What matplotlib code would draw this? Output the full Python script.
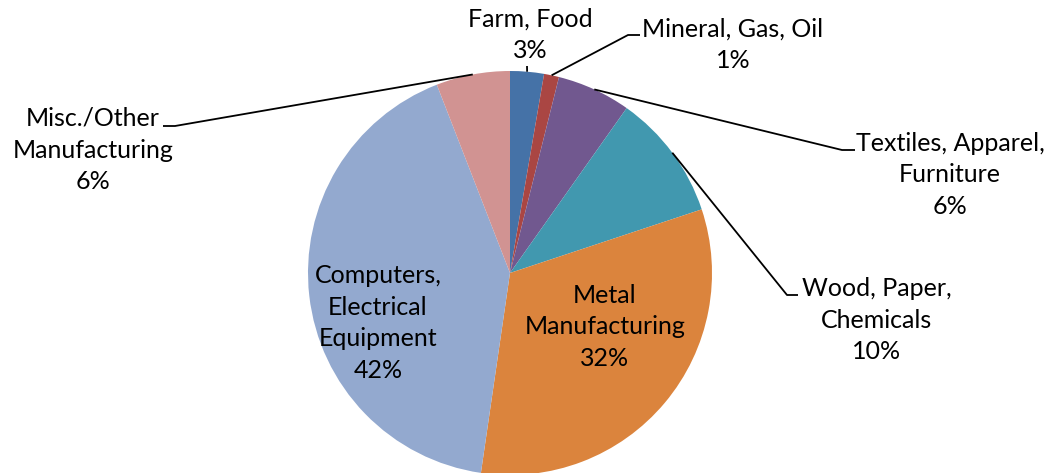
import numpy as np
import matplotlib
matplotlib.use("Agg")
import matplotlib.pyplot as plt

plt.rcParams['font.family'] = ['Lato', 'DejaVu Sans']

categories = ["Farm, Food", "Mineral, Gas, Oil", "Textiles, Apparel,\nFurniture",
              "Wood, Paper,\nChemicals", "Metal\nManufacturing",
              "Computers,\nElectrical\nEquipment", "Misc./Other\nManufacturing"]
shares = [2.7, 1.2, 5.9, 10.1, 32.4, 41.8, 5.9]
colors = ["#4572A7", "#AA4643", "#71588F", "#4198AF", "#DB843D", "#93A9CF", "#D19392"]

W, H = 1049, 473
fig = plt.figure(figsize=(W / 100, H / 100), dpi=100)
ax = fig.add_axes([0, 0, 1, 1])

def py(y):
    # image-style y (from top) to axes y
    return H - y

cx, cy, r = 510, py(273), 202
wedges, _ = ax.pie(shares, colors=colors, startangle=90, counterclock=False,
                   center=(cx, cy), radius=r, frame=True,
                   wedgeprops=dict(linewidth=0))
ax.set_xlim(0, W)
ax.set_ylim(0, H)
ax.axis('off')

fs = 18
ls = 1.47

def edge_point(w):
    a = np.deg2rad((w.theta1 + w.theta2) / 2)
    return cx + r * np.cos(a), cy + r * np.sin(a)

# outside labels: (index, text position, elbow, line end)
outside = [
    (0, (530, 35), None, (527, 66)),
    (1, (733, 45), (628, 35), (640, 35)),
    (2, (950, 175), (842, 150), (855, 150)),
    (3, (877, 320), (787, 295), (798, 295)),
    (6, (93, 150), (175, 126), (163, 126)),
]
for i, (tx, ty), elbow, end in outside:
    pct = "%d%%" % round(shares[i])
    ax.text(tx, py(ty), categories[i] + "\n" + pct, ha='center', va='center',
            fontsize=fs, linespacing=ls, color='black')
    x0, y0 = edge_point(wedges[i])
    xs, ys = [x0], [y0]
    if elbow is not None:
        xs.append(elbow[0]); ys.append(py(elbow[1]))
    xs.append(end[0]); ys.append(py(end[1]))
    ax.plot(xs, ys, color='black', linewidth=1.3, solid_capstyle='butt')

# inside labels
inside = [(4, (605, 327)), (5, (378, 323))]
for i, (tx, ty) in inside:
    pct = "%d%%" % round(shares[i])
    ax.text(tx, py(ty), categories[i] + "\n" + pct, ha='center', va='center',
            fontsize=fs, linespacing=ls, color='black')

fig.savefig("out.png", dpi=100)
